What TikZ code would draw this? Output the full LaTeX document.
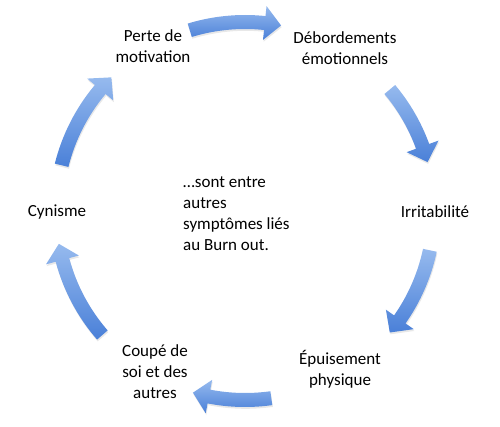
\documentclass[tikz,border=0pt]{standalone}
\usepackage{fontspec}
\setmainfont{Carlito}
\usetikzlibrary{shadows}
\definecolor{arrowlight}{RGB}{150,186,238}
\definecolor{arrowdark}{RGB}{74,128,216}

\begin{document}
\begin{tikzpicture}[
    x=1pt, y=1pt,
    every node/.style={font=\fontsize{17}{21}\selectfont, inner sep=0pt},
    phase/.style={align=center},
    note/.style={align=left, anchor=west},
    cyclearrow/.style={top color=arrowlight, bottom color=arrowdark,
        drop shadow={shadow xshift=0.6pt, shadow yshift=-1.8pt, opacity=0.18}}
]
    \useasboundingbox (0,0) rectangle (500,426);

    \node[phase] (perte)  at (153, 380) {Perte de\\motivation};
    \node[phase] (debord) at (345, 378) {Débordements\\émotionnels};
    \node[phase] (irrit)  at (435, 214) {Irritabilité};
    \node[phase] (epuis)  at (340, 57)  {Épuisement\\physique};
    \node[phase] (coupe)  at (155, 54)  {Coupé de\\soi et des\\autres};
    \node[phase] (cyn)    at (57, 214)  {Cynisme};

    \node[note] (centre) at (183, 212)
        {…sont entre\\autres\\symptômes liés\\au Burn out.};

    % fleches du cycle
    \coordinate (hub) at (245, 215);
    \begin{scope}[shift={(hub)}]
    \foreach \a/\b in {107/79, 40/15, -12/-40, -82/-106, 221/190, 166/135} {
        \pgfmathsetmacro{\hb}{\b+5}
        \path[cyclearrow]
            (\a:196) arc[start angle=\a, end angle=\hb, radius=196]
            -- (\hb:206) -- (\b:189) -- (\hb:172) -- (\hb:182)
            arc[start angle=\hb, end angle=\a, radius=182] -- cycle;
    }
    \end{scope}
\end{tikzpicture}
\end{document}
